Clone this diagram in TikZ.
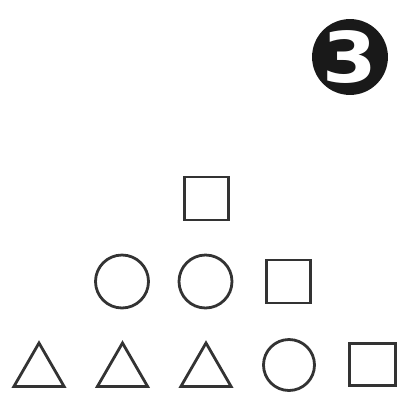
\documentclass[tikz,border=0pt]{standalone}
\usepackage{fontspec}
\newfontfamily\badgefont{DejaVu Sans}
\usetikzlibrary{shapes.geometric}

\begin{document}
\begin{tikzpicture}[
  x=1pt, y=-1pt,
  shp/.style     = {draw=black!80, line width=2.8pt, inner sep=0pt, fill=white},
  sq/.style      = {shp, rectangle, minimum width=44pt, minimum height=43pt},
  ring/.style    = {shp, circle, minimum size=53pt},
  tri/.style     = {shp, regular polygon, regular polygon sides=3, minimum size=58pt},
  badge/.style   = {circle, fill=black!90, minimum size=75pt, inner sep=0pt,
                    text=white, font=\badgefont\bfseries\fontsize{70}{70}\selectfont},
]
\useasboundingbox (0,0) rectangle (401,394);

% ---- the number badge -------------------------------------------------------
\node[badge] (num) at (350,57) {\scalebox{1.12}[1]{3}};

% ---- top row ----------------------------------------------------------------
\node[sq]   (s1) at (206.5,198.5) {};

% ---- middle row -------------------------------------------------------------
\node[ring] (c1) at (122,281.5) {};
\node[ring] (c2) at (205.5,281.5) {};
\node[sq]   (s2) at (288.5,281.5) {};

% ---- bottom row -------------------------------------------------------------
\node[tri]  (t1) at (39,372) {};
\node[tri]  (t2) at (122.5,372) {};
\node[tri]  (t3) at (206,372) {};
\node[ring, minimum size=51pt] (c3) at (289,365) {};
\node[sq, minimum width=46pt, minimum height=42pt] (s3) at (372.5,364.5) {};

\end{tikzpicture}
\end{document}
